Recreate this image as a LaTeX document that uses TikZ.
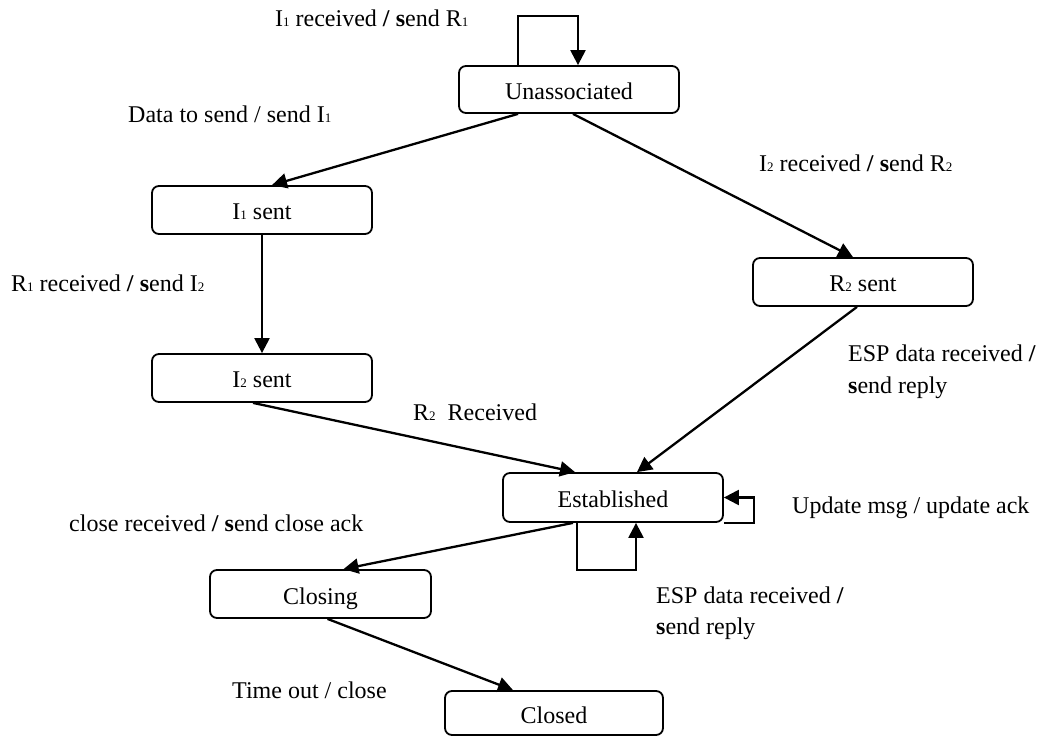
\documentclass[tikz,border=0pt]{standalone}
\usepackage{fontspec}
\setmainfont{Liberation Serif}
\usetikzlibrary{arrows.meta}
% small baseline digit used as an index (I1, R2, ...)
\newcommand\subdig[1]{{\fontsize{13}{13}\selectfont #1}}
\begin{document}
\begin{tikzpicture}[x=1pt,y=-1pt,
  every node/.style={font=\fontsize{24}{31}\selectfont},
  state/.style={draw, line width=1.8pt, rounded corners=7pt,
    minimum width=220pt, minimum height=48pt, inner sep=0pt,
    text height=22pt, text depth=2pt},
  arr/.style={line width=2.3pt, -{Triangle[length=15pt,width=15pt]}},
  lbl/.style={anchor=base west, inner sep=0pt}]
\useasboundingbox (0,0) rectangle (1037,738);

% states
\node[state, minimum height=47pt] (U) at (569,89.5) {Unassociated};
\node[state] (I1) at (262,210) {I\subdig{1} sent};
\node[state] (I2) at (262,378) {I\subdig{2} sent};
\node[state] (R2) at (863,282) {R\subdig{2} sent};
\node[state, minimum height=49pt] (E) at (613,497.5) {Established};
\node[state, minimum width=221pt] (Cg) at (320.5,594) {Closing};
\node[state, minimum width=218pt, minimum height=44pt] (Cd) at (554,713) {Closed};

% transitions
\draw[arr] ([xshift=-51pt]U.north) -- ++(0,-49) -| ([xshift=9pt]U.north);
\draw[arr] ([xshift=-51pt]U.south) -- ([xshift=10pt]I1.north);
\draw[arr] ([xshift=4pt]U.south) -- ([xshift=-10pt]R2.north);
\draw[arr] (I1.south) -- (I2.north);
\draw[arr] ([xshift=-9pt]I2.south) -- ([xshift=-38pt]E.north);
\draw[arr] ([xshift=-6pt]R2.south) -- ([xshift=24pt]E.north);
\draw[arr] (E.south east) -- ++(30,0) |- (E.east);
\draw[arr] ([xshift=-36pt]E.south) -- ++(0,47) -| ([xshift=23pt]E.south);
\draw[arr] ([xshift=-40pt]E.south) -- ([xshift=23pt]Cg.north);
\draw[arr] ([xshift=7pt]Cg.south) -- ([xshift=-41pt]Cd.north);

% transition labels
\node[lbl] (t1) at (275,27) {I\subdig{1} received \textbf{/} \textbf{s}end R\subdig{1}};
\node[lbl] (t2) at (128,123) {Data to send / send I\subdig{1}};
\node[lbl] (t3) at (759,172) {I\subdig{2} received \textbf{/} \textbf{s}end R\subdig{2}};
\node[lbl] (t4) at (11,292) {R\subdig{1} received \textbf{/} \textbf{s}end I\subdig{2}};
\node[lbl] (t5) at (413,420) {R\subdig{2}\ \ Received};
\node[lbl] (t6a) at (848,362) {ESP data received \textbf{/}};
\node[lbl] (t6b) at (848,393) {\textbf{s}end reply};
\node[lbl] (t7) at (792,513) {Update msg / update ack};
\node[lbl] (t8) at (69,531) {close received \textbf{/} \textbf{s}end close ack};
\node[lbl] (t9a) at (656,603) {ESP data received \textbf{/}};
\node[lbl] (t9b) at (656,634) {\textbf{s}end reply};
\node[lbl] (t10) at (232,698) {Time out / close};
\end{tikzpicture}
\end{document}
